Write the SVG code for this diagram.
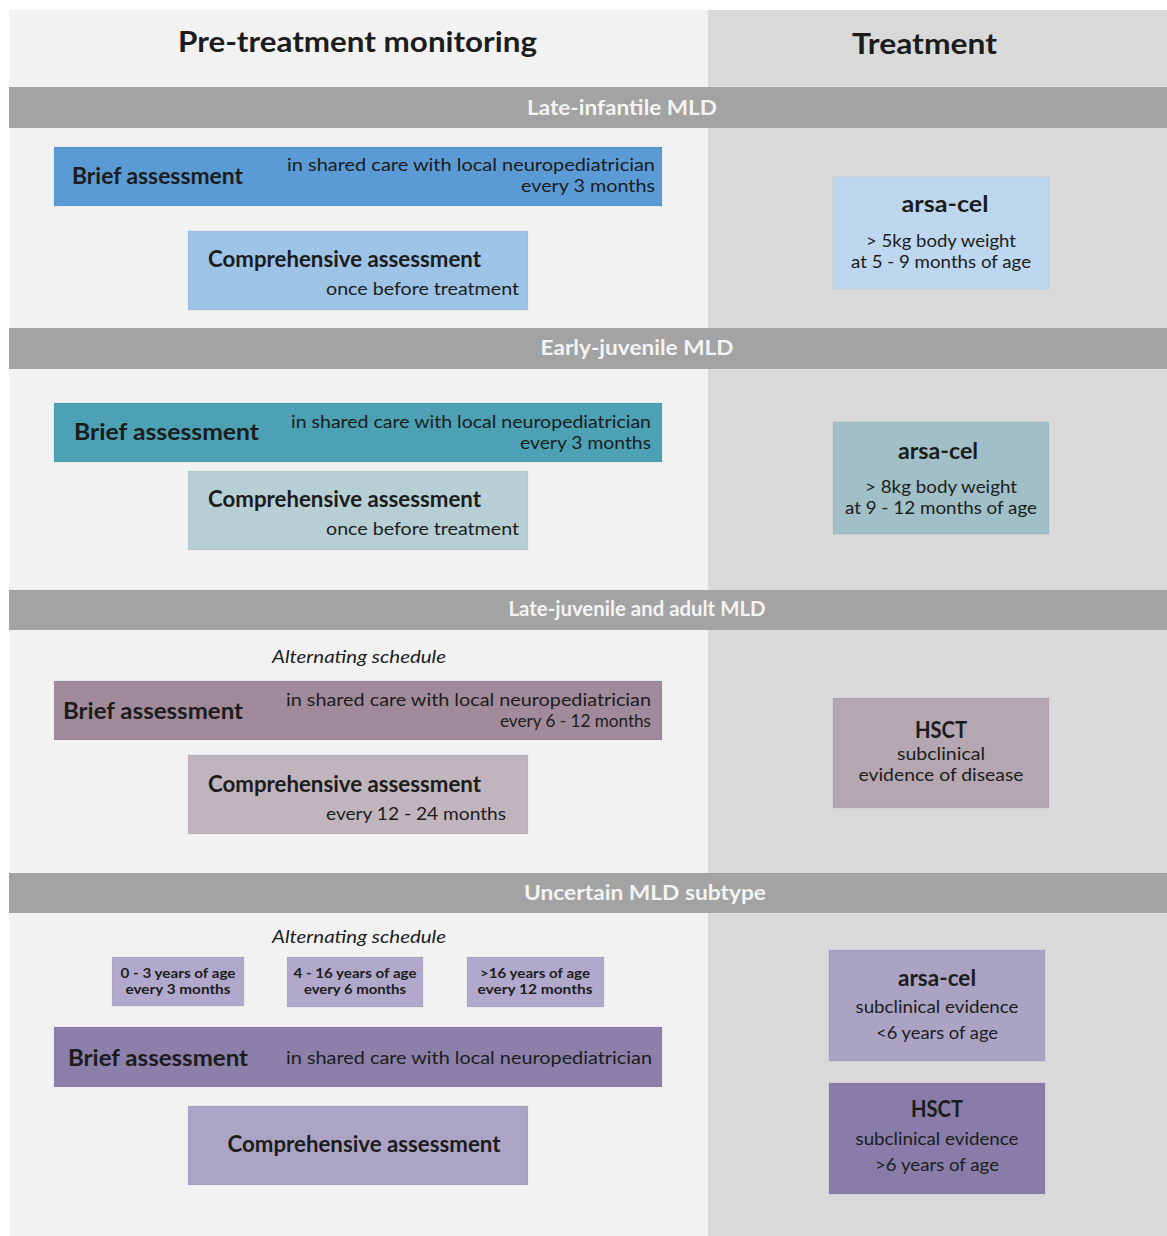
<svg xmlns="http://www.w3.org/2000/svg" width="1167" height="1236" viewBox="0 0 1167 1236">
<style>
text{font-family:Lato,"Open Sans","Liberation Sans",sans-serif;fill:#1c1c1c}
.t{font-size:29px;font-weight:bold}
.band{fill:#a3a3a3}
.bt{font-size:20px;font-weight:bold;fill:#f4f4f4;text-anchor:middle}
.h{font-size:22px;font-weight:bold}
.s{font-size:18px}
.r{text-anchor:end}
.m{text-anchor:middle}
.i{font-size:18px;font-style:italic;text-anchor:middle}
.sm{font-size:13px;font-weight:bold;text-anchor:middle}
.box{stroke:#000;stroke-opacity:0.06;stroke-width:1}
</style>
<rect width="1167" height="1236" fill="#ffffff"/>
<rect x="9" y="10" width="699" height="1226" fill="#f2f2f2"/>
<rect x="708" y="10" width="459" height="1226" fill="#d9d9d9"/>
<g id="titles">
<text class="t" x="178" y="52" textLength="359" lengthAdjust="spacingAndGlyphs">Pre-treatment monitoring</text>
<text class="t" x="852" y="54" textLength="145" lengthAdjust="spacingAndGlyphs">Treatment</text>
</g>
<g id="band1"><rect class="band" x="9" y="87" width="1158" height="41"/><text class="bt" x="622" y="115" textLength="190" lengthAdjust="spacingAndGlyphs">Late-infantile MLD</text></g>
<g id="band2"><rect class="band" x="9" y="328" width="1158" height="41"/><text class="bt" x="637" y="355" textLength="193" lengthAdjust="spacingAndGlyphs">Early-juvenile MLD</text></g>
<g id="band3"><rect class="band" x="9" y="590" width="1158" height="40"/><text class="bt" x="637" y="616" textLength="257" lengthAdjust="spacingAndGlyphs">Late-juvenile and adult MLD</text></g>
<g id="band4"><rect class="band" x="9" y="873" width="1158" height="40"/><text class="bt" x="645" y="900" textLength="242" lengthAdjust="spacingAndGlyphs">Uncertain MLD subtype</text></g>

<g id="s1-brief"><rect class="box" x="54" y="147" width="608" height="59" fill="#5b9bd5"/>
<text class="h" x="72" y="184" textLength="171" lengthAdjust="spacingAndGlyphs">Brief assessment</text>
<text class="s r" x="655" y="171" textLength="368" lengthAdjust="spacingAndGlyphs">in shared care with local neuropediatrician</text>
<text class="s r" x="655" y="192" textLength="134" lengthAdjust="spacingAndGlyphs">every 3 months</text></g>
<g id="s1-comp"><rect class="box" x="188" y="231" width="340" height="79" fill="#9dc3e6"/>
<text class="h" x="208" y="267" textLength="273" lengthAdjust="spacingAndGlyphs">Comprehensive assessment</text>
<text class="s r" x="519" y="295" textLength="193" lengthAdjust="spacingAndGlyphs">once before treatment</text></g>
<g id="s1-treat"><rect class="box" x="833" y="177" width="216" height="112" fill="#bdd7ee"/>
<text class="h m" x="945" y="212" textLength="87" lengthAdjust="spacingAndGlyphs">arsa-cel</text>
<text class="s m" x="941" y="247" textLength="150" lengthAdjust="spacingAndGlyphs">&gt; 5kg body weight</text>
<text class="s m" x="941" y="268" textLength="180" lengthAdjust="spacingAndGlyphs">at 5 - 9 months of age</text></g>

<g id="s2-brief"><rect class="box" x="54" y="403" width="608" height="59" fill="#4ca1b4"/>
<text class="h" x="74" y="440" textLength="185" lengthAdjust="spacingAndGlyphs">Brief assessment</text>
<text class="s r" x="651" y="428" textLength="360" lengthAdjust="spacingAndGlyphs">in shared care with local neuropediatrician</text>
<text class="s r" x="651" y="449" textLength="131" lengthAdjust="spacingAndGlyphs">every 3 months</text></g>
<g id="s2-comp"><rect class="box" x="188" y="471" width="340" height="79" fill="#b6cfd4"/>
<text class="h" x="208" y="507" textLength="273" lengthAdjust="spacingAndGlyphs">Comprehensive assessment</text>
<text class="s r" x="519" y="535" textLength="193" lengthAdjust="spacingAndGlyphs">once before treatment</text></g>
<g id="s2-treat"><rect class="box" x="833" y="422" width="216" height="112" fill="#a0bfc6"/>
<text class="h m" x="938" y="459" textLength="80" lengthAdjust="spacingAndGlyphs">arsa-cel</text>
<text class="s m" x="941" y="493" textLength="152" lengthAdjust="spacingAndGlyphs">&gt; 8kg body weight</text>
<text class="s m" x="941" y="514" textLength="192" lengthAdjust="spacingAndGlyphs">at 9 - 12 months of age</text></g>

<text class="i" x="359" y="663" textLength="174" lengthAdjust="spacingAndGlyphs">Alternating schedule</text>
<g id="s3-brief"><rect class="box" x="54" y="681" width="608" height="59" fill="#a18b9b"/>
<text class="h" x="63" y="719" textLength="180" lengthAdjust="spacingAndGlyphs">Brief assessment</text>
<text class="s r" x="651" y="706" textLength="365" lengthAdjust="spacingAndGlyphs">in shared care with local neuropediatrician</text>
<text class="s r" x="651" y="727" textLength="151" lengthAdjust="spacingAndGlyphs">every 6 - 12 months</text></g>
<g id="s3-comp"><rect class="box" x="188" y="755" width="340" height="79" fill="#c0b4bd"/>
<text class="h" x="208" y="792" textLength="273" lengthAdjust="spacingAndGlyphs">Comprehensive assessment</text>
<text class="s r" x="506" y="820" textLength="180" lengthAdjust="spacingAndGlyphs">every 12 - 24 months</text></g>
<g id="s3-treat"><rect class="box" x="833" y="698" width="216" height="110" fill="#b4a7b1"/>
<text class="h m" x="941" y="738" textLength="52" lengthAdjust="spacingAndGlyphs">HSCT</text>
<text class="s m" x="941" y="760" textLength="88" lengthAdjust="spacingAndGlyphs">subclinical</text>
<text class="s m" x="941" y="781" textLength="165" lengthAdjust="spacingAndGlyphs">evidence of disease</text></g>

<text class="i" x="359" y="943" textLength="174" lengthAdjust="spacingAndGlyphs">Alternating schedule</text>
<g id="s4-age1"><rect class="box" x="112" y="957" width="132" height="49" fill="#b1a9cc"/>
<text class="sm" x="178" y="978" textLength="115" lengthAdjust="spacingAndGlyphs">0 - 3 years of age</text>
<text class="sm" x="178" y="994" textLength="105" lengthAdjust="spacingAndGlyphs">every 3 months</text></g>
<g id="s4-age2"><rect class="box" x="287" y="957" width="136" height="50" fill="#b1a9cc"/>
<text class="sm" x="355" y="978" textLength="123" lengthAdjust="spacingAndGlyphs">4 - 16 years of age</text>
<text class="sm" x="355" y="994" textLength="102" lengthAdjust="spacingAndGlyphs">every 6 months</text></g>
<g id="s4-age3"><rect class="box" x="467" y="957" width="137" height="50" fill="#b1a9cc"/>
<text class="sm" x="535" y="978" textLength="110" lengthAdjust="spacingAndGlyphs">&gt;16 years of age</text>
<text class="sm" x="535" y="994" textLength="115" lengthAdjust="spacingAndGlyphs">every 12 months</text></g>
<g id="s4-brief"><rect class="box" x="54" y="1027" width="608" height="60" fill="#8b80aa"/>
<text class="h" x="68" y="1066" textLength="180" lengthAdjust="spacingAndGlyphs">Brief assessment</text>
<text class="s r" x="652" y="1064" textLength="366" lengthAdjust="spacingAndGlyphs">in shared care with local neuropediatrician</text></g>
<g id="s4-comp"><rect class="box" x="188" y="1106" width="340" height="79" fill="#aba4c5"/>
<text class="h m" x="364" y="1152" textLength="273" lengthAdjust="spacingAndGlyphs">Comprehensive assessment</text></g>
<g id="s4-arsa"><rect class="box" x="829" y="950" width="216" height="111" fill="#aaa3c3"/>
<text class="h m" x="937" y="986" textLength="78" lengthAdjust="spacingAndGlyphs">arsa-cel</text>
<text class="s m" x="937" y="1013" textLength="163" lengthAdjust="spacingAndGlyphs">subclinical evidence</text>
<text class="s m" x="937" y="1039" textLength="122" lengthAdjust="spacingAndGlyphs">&lt;6 years of age</text></g>
<g id="s4-hsct"><rect class="box" x="829" y="1083" width="216" height="111" fill="#887da8"/>
<text class="h m" x="937" y="1117" textLength="52" lengthAdjust="spacingAndGlyphs">HSCT</text>
<text class="s m" x="937" y="1145" textLength="163" lengthAdjust="spacingAndGlyphs">subclinical evidence</text>
<text class="s m" x="937" y="1171" textLength="124" lengthAdjust="spacingAndGlyphs">&gt;6 years of age</text></g>
<g id="connectors"></g>
</svg>
